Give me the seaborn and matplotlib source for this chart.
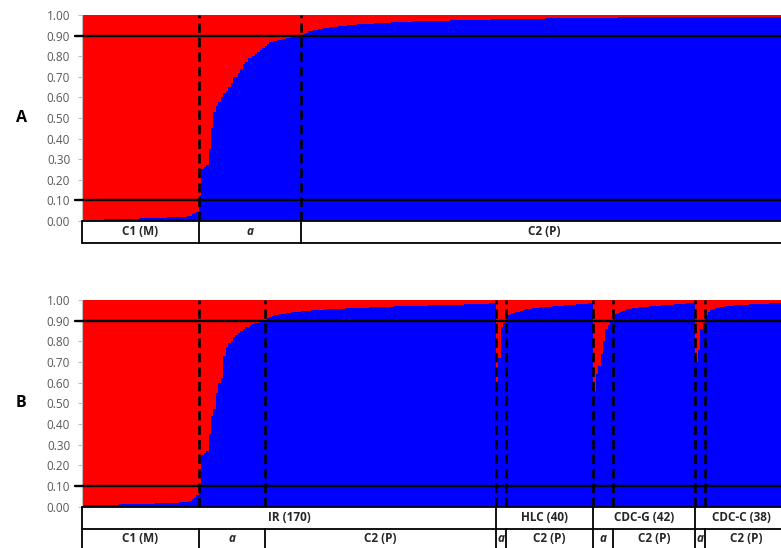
import numpy as np
import pandas as pd
import matplotlib
matplotlib.use("Agg")
import matplotlib.pyplot as plt
import seaborn as sns

# ---------------- data: membership coefficient (blue cluster, C2) per sample ----------------
# Panel A (whole sample, sorted)
A_c1 = [0.004, 0.005, 0.005, 0.006, 0.006, 0.006, 0.007, 0.007, 0.007, 0.008, 0.008, 0.008,
        0.009, 0.009, 0.009, 0.010, 0.010, 0.010, 0.011, 0.011, 0.011, 0.012, 0.012, 0.012,
        0.013, 0.013, 0.013, 0.014, 0.014, 0.014, 0.015, 0.015, 0.015, 0.016, 0.016, 0.017,
        0.017, 0.018, 0.018, 0.019, 0.019, 0.020, 0.021, 0.022, 0.026, 0.032, 0.038, 0.045]
A_a = [0.12, 0.25, 0.26, 0.27, 0.35, 0.45, 0.53, 0.56, 0.58, 0.60,
       0.62, 0.63, 0.65, 0.67, 0.70, 0.70, 0.72, 0.74, 0.76, 0.77,
       0.79, 0.79, 0.80, 0.81, 0.82, 0.83, 0.84, 0.85, 0.86, 0.87,
       0.87, 0.875, 0.88, 0.88, 0.885, 0.885, 0.89, 0.89, 0.895, 0.895, 0.90, 0.90]
A_c2 = [0.905, 0.910, 0.915, 0.920, 0.922, 0.925, 0.928, 0.930, 0.932, 0.935,
        0.937, 0.939, 0.941, 0.943, 0.944, 0.945, 0.947,
        0.948, 0.949, 0.950, 0.951, 0.952, 0.953, 0.954, 0.955, 0.955, 0.956, 0.957,
        0.958, 0.958, 0.959, 0.960, 0.960, 0.961, 0.962, 0.962, 0.963, 0.964, 0.964, 0.965, 0.966, 0.967,
        0.967, 0.968, 0.968, 0.968, 0.969, 0.969, 0.969, 0.970, 0.970, 0.970, 0.971, 0.971, 0.971, 0.972,
        0.972, 0.972, 0.973, 0.973, 0.973, 0.974, 0.974, 0.974, 0.975, 0.975, 0.975, 0.976, 0.976,
        0.976, 0.977, 0.977, 0.977, 0.977, 0.978, 0.978, 0.978, 0.978, 0.979, 0.979, 0.979, 0.979, 0.980,
        0.980, 0.980, 0.980, 0.981, 0.981, 0.981, 0.981, 0.982, 0.982, 0.982, 0.982, 0.983, 0.983,
        0.983, 0.983, 0.983, 0.983, 0.984, 0.984, 0.984, 0.984, 0.984, 0.984, 0.985, 0.985, 0.985, 0.985,
        0.985, 0.985, 0.985, 0.986, 0.986, 0.986, 0.986, 0.986, 0.986, 0.986, 0.987, 0.987, 0.987, 0.987,
        0.987, 0.987, 0.987, 0.987, 0.987, 0.987,
        0.988, 0.988, 0.988, 0.988, 0.988, 0.988, 0.988, 0.988, 0.988, 0.988, 0.988, 0.988, 0.988, 0.988, 0.988,
        0.989, 0.989, 0.989, 0.989, 0.989, 0.989, 0.989, 0.989, 0.989, 0.989, 0.989, 0.989, 0.989, 0.989, 0.989,
        0.990, 0.990, 0.990, 0.990, 0.990, 0.990, 0.990, 0.990, 0.990, 0.990, 0.990, 0.990, 0.990, 0.990, 0.990,
        0.991, 0.991, 0.991, 0.991, 0.991, 0.991, 0.991, 0.991, 0.991, 0.991, 0.991, 0.991, 0.991, 0.991, 0.991,
        0.992, 0.992, 0.992, 0.992, 0.992, 0.992, 0.992, 0.992, 0.992, 0.992]
A_cluster_labels = ["C1 (M)", "a", "C2 (P)"]

# Panel B (by origin group)
B_ir_c1 = [0.004, 0.005, 0.005, 0.006, 0.006, 0.006, 0.007, 0.007, 0.007, 0.008, 0.008, 0.008,
           0.009, 0.009, 0.009, 0.010, 0.010, 0.010, 0.011, 0.011, 0.011, 0.012, 0.012, 0.012,
           0.013, 0.013, 0.013, 0.014, 0.014, 0.014, 0.015, 0.015, 0.015, 0.016, 0.016, 0.017,
           0.017, 0.018, 0.018, 0.019, 0.020, 0.021, 0.022, 0.024, 0.028, 0.034, 0.042, 0.055]
B_ir_a = [0.09, 0.25, 0.26, 0.27, 0.35, 0.44, 0.47, 0.55, 0.60, 0.62,
          0.73, 0.77, 0.79, 0.80, 0.82, 0.83, 0.84, 0.85, 0.86, 0.87,
          0.87, 0.88, 0.885, 0.89, 0.89, 0.895, 0.90]
B_ir_c2 = [0.905, 0.912, 0.918, 0.922, 0.925, 0.928, 0.930,
           0.932, 0.934, 0.936, 0.938, 0.940, 0.941, 0.943, 0.944, 0.945, 0.946, 0.948, 0.949,
           0.950, 0.951, 0.951, 0.952, 0.953, 0.953, 0.954, 0.955, 0.955, 0.956, 0.957, 0.957,
           0.958, 0.958, 0.959, 0.959, 0.960,
           0.960, 0.961, 0.961, 0.962, 0.962, 0.963, 0.963, 0.964, 0.964, 0.965, 0.965, 0.966,
           0.966, 0.967, 0.967, 0.968, 0.968, 0.969, 0.969, 0.970,
           0.970, 0.970, 0.971, 0.971, 0.971, 0.972, 0.972, 0.972, 0.973, 0.973, 0.973, 0.974,
           0.974, 0.974, 0.975, 0.975, 0.975, 0.976, 0.976, 0.976, 0.977, 0.977, 0.977, 0.978,
           0.978, 0.978, 0.979, 0.979, 0.980,
           0.980, 0.981, 0.981, 0.982, 0.982, 0.983, 0.983, 0.984, 0.984, 0.985]
B_hlc_a = [0.60, 0.72, 0.87, 0.89]
B_hlc_c2 = [0.910, 0.925, 0.930, 0.935, 0.940, 0.944, 0.948, 0.951, 0.954, 0.956,
            0.958, 0.960, 0.961, 0.962, 0.964, 0.965, 0.966, 0.967, 0.968, 0.969,
            0.970, 0.971, 0.972, 0.973, 0.974, 0.975, 0.976, 0.977, 0.978, 0.979,
            0.980, 0.981, 0.982, 0.983, 0.984, 0.985]
B_cdcg_a = [0.56, 0.64, 0.68, 0.74, 0.80, 0.86, 0.88, 0.90]
B_cdcg_c2 = [0.915, 0.930, 0.936, 0.942, 0.947, 0.951, 0.954, 0.957, 0.959, 0.961,
             0.963, 0.965, 0.966, 0.967, 0.968, 0.969, 0.970, 0.971, 0.972, 0.973,
             0.974, 0.975, 0.976, 0.977, 0.978, 0.979, 0.980, 0.981, 0.982, 0.983,
             0.984, 0.984, 0.985, 0.986]
B_cdcc_a = [0.70, 0.76, 0.86, 0.89]
B_cdcc_c2 = [0.925, 0.940, 0.950, 0.955, 0.959, 0.962, 0.965, 0.967, 0.969, 0.971,
             0.972, 0.973, 0.974, 0.975, 0.976, 0.977, 0.977, 0.978, 0.979, 0.979,
             0.980, 0.981, 0.981, 0.982, 0.982, 0.983, 0.984, 0.984, 0.985, 0.985,
             0.986, 0.986, 0.987, 0.987]
B_group_labels = ["IR (170)", "HLC (40)", "CDC-G (42)", "CDC-C (38)"]
B_segments = [
    [("C1 (M)", B_ir_c1), ("a", B_ir_a), ("C2 (P)", B_ir_c2)],
    [("a", B_hlc_a), ("C2 (P)", B_hlc_c2)],
    [("a", B_cdcg_a), ("C2 (P)", B_cdcg_c2)],
    [("a", B_cdcc_a), ("C2 (P)", B_cdcc_c2)],
]
A_segments = [("C1 (M)", A_c1), ("a", A_a), ("C2 (P)", A_c2)]

y_ticks = [0.0, 0.1, 0.2, 0.3, 0.4, 0.5, 0.6, 0.7, 0.8, 0.9, 1.0]
thresholds = [0.10, 0.90]

RED = "#FF0000"
BLUE = "#0000FF"

# ---------------- style ----------------
sns.set_theme(style="white")
plt.rcParams["font.family"] = ["Open Sans", "DejaVu Sans"]

W, H = 781, 548
fig = plt.figure(figsize=(W / 100, H / 100), dpi=100)


def fx(px):
    return px / W


def fy(py):
    return 1 - py / H


left_px, right_px = 82, 788
LABEL_FS = 8.5


def main_axes(top_px, bottom_px):
    return fig.add_axes([fx(left_px), fy(bottom_px), fx(right_px - left_px), (bottom_px - top_px) / H])


def draw_bars(ax, q):
    n = len(q)
    df = pd.DataFrame({"sample": np.arange(n), "C2": q, "total": np.ones(n)})
    sns.barplot(data=df, x="sample", y="total", native_scale=True, color=RED, saturation=1,
                width=1, linewidth=0, errorbar=None, ax=ax, antialiased=False)
    sns.barplot(data=df, x="sample", y="C2", native_scale=True, color=BLUE, saturation=1,
                width=1, linewidth=0, errorbar=None, ax=ax, antialiased=False)
    ax.set_xlim(-0.5, n - 0.5)
    ax.set_ylim(0, 1)
    ax.set_xticks([])
    ax.set_xlabel("")
    ax.set_ylabel("")
    ax.set_yticks(y_ticks)
    ax.set_yticklabels([f"{t:.2f}" for t in y_ticks])
    ax.tick_params(axis="y", left=True, length=3, width=0.8, color="#BFBFBF",
                   labelsize=8.5, labelcolor="#595959", pad=5.5)
    for s in ["top", "right", "bottom"]:
        ax.spines[s].set_visible(False)
    ax.spines["left"].set_color("#BFBFBF")
    ax.spines["left"].set_linewidth(0.8)
    for t in thresholds:
        ax.axhline(t, xmin=-0.01, xmax=1, color="black", lw=1.7, clip_on=False, zorder=5)
    ax.set_facecolor("white")


def dashed(ax, xs):
    for x in xs:
        ax.axvline(x, color="black", lw=1.9, ls=(0, (3.6, 1.9)), zorder=6)


# ---------------- Panel A ----------------
qA = np.concatenate([np.array(v, dtype=float) for _, v in A_segments])
axA = main_axes(15, 221)
draw_bars(axA, qA)
bA = np.cumsum([len(v) for _, v in A_segments])
dashed(axA, bA[:-1] - 0.5)

tA = fig.add_axes([fx(left_px), fy(243), fx(right_px - left_px), 22 / H])
tA.set_xlim(-0.5, len(qA) - 0.5)
tA.set_ylim(0, 1)
tA.axis("off")
tA.plot([-0.5, len(qA)], [0, 0], color="black", lw=1.3, clip_on=False)
tA.plot([-0.5, len(qA)], [1, 1], color="black", lw=1.3, clip_on=False)
tA.plot([-0.5, -0.5], [0, 1], color="black", lw=1.3, clip_on=False)
start = 0
for (lab, v), end in zip(A_segments, bA):
    if end < len(qA):
        tA.plot([end - 0.5, end - 0.5], [0, 1], color="black", lw=1.3, clip_on=False)
    style = "italic" if lab == "a" else "normal"
    tA.text((start + end) / 2 - 0.5, 0.5, lab, ha="center", va="center", fontsize=LABEL_FS,
            fontweight="bold", fontstyle=style, color="#262626")
    start = end

fig.text(fx(21), fy(117.5), "A", ha="center", va="center", fontsize=11.5, fontweight="bold", color="black")

# ---------------- Panel B ----------------
flat = [v for grp in B_segments for _, v in grp]
qB = np.concatenate([np.array(v, dtype=float) for v in flat])
axB = main_axes(300, 506.5)
draw_bars(axB, qB)
seg_ends = np.cumsum([len(v) for v in flat])
dashed(axB, seg_ends[:-1] - 0.5)

tB = fig.add_axes([fx(left_px), fy(552), fx(right_px - left_px), 45.5 / H])
tB.set_xlim(-0.5, len(qB) - 0.5)
tB.set_ylim(0, 2)
tB.axis("off")
for yy in [1, 2]:
    tB.plot([-0.5, len(qB)], [yy, yy], color="black", lw=1.3, clip_on=False)
tB.plot([-0.5, -0.5], [0, 2], color="black", lw=1.3, clip_on=False)

g_start = 0
for glab, grp in zip(B_group_labels, B_segments):
    g_len = sum(len(v) for _, v in grp)
    g_end = g_start + g_len
    if g_end < len(qB):
        tB.plot([g_end - 0.5, g_end - 0.5], [0, 2], color="black", lw=1.3, clip_on=False)
    tB.text((g_start + g_end) / 2 - 0.5, 1.52, glab, ha="center", va="center", fontsize=LABEL_FS,
            fontweight="bold", color="#262626")
    s = g_start
    for lab, v in grp:
        e = s + len(v)
        if e < g_end:
            tB.plot([e - 0.5, e - 0.5], [0, 1], color="black", lw=1.3, clip_on=False)
        style = "italic" if lab == "a" else "normal"
        tB.text((s + e) / 2 - 0.5, 0.6, lab, ha="center", va="center", fontsize=LABEL_FS,
                fontweight="bold", fontstyle=style, color="#262626")
        s = e
    g_start = g_end

fig.text(fx(21), fy(403), "B", ha="center", va="center", fontsize=11.5, fontweight="bold", color="black")

fig.savefig("out.png", dpi=100, facecolor="white")
